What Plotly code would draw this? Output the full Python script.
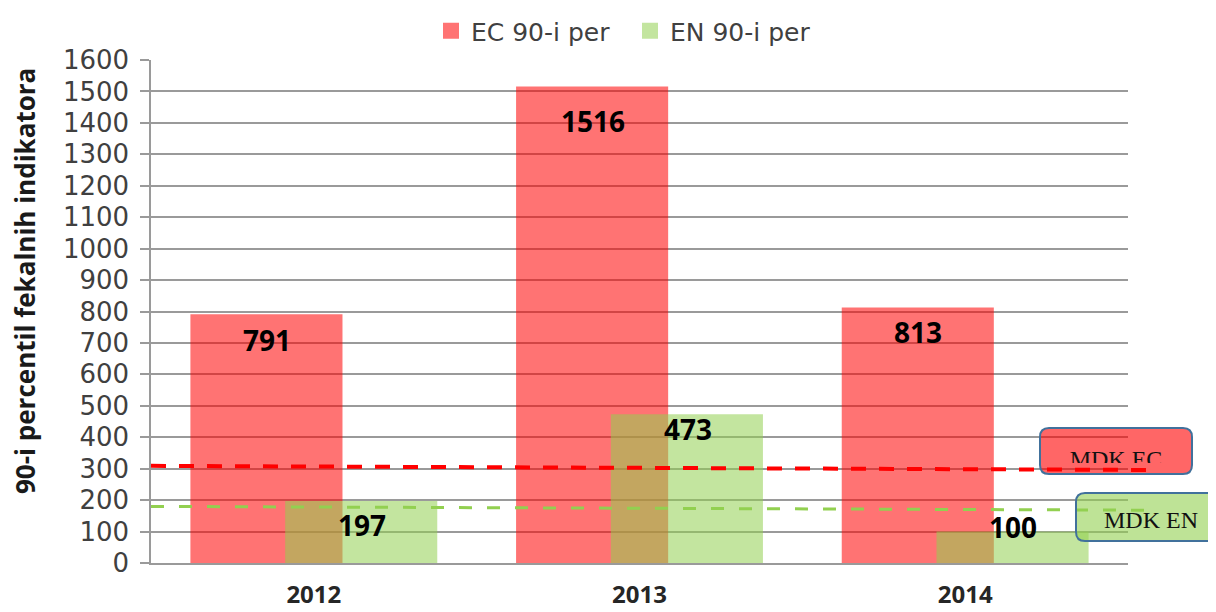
import plotly.graph_objects as go

# ---- data ----
years = ["2012", "2013", "2014"]
ec_values = [791, 1516, 813]
en_values = [197, 473, 100]
ec_name = "EC 90-i per"
en_name = "EN 90-i per"
mdk_ec = [309, 296]   # dashed MDK EC reference line (start, end)
mdk_en = [180, 168]   # dashed MDK EN reference line (start, end)
y_title = "90-i percentil fekalnih indikatora"

OFF = 8  # page body margin
W, H = 1216 - OFF, 612 - OFF
L, T = 151 - OFF, 60 - OFF
R = W - (1128 - OFF)
B = H - (563 - OFF)
PW, PH = W - L - R, H - T - B

def px_x(px):
    return (px - OFF - L) / PW

def px_y(py):
    return (H - B - (py - OFF)) / PH

EC_COL = "rgba(255,0,0,0.55)"
EN_COL = "rgba(146,208,80,0.55)"

fig = go.Figure()
bar_w = 0.467
fig.add_trace(go.Bar(
    x=years, y=ec_values, name=ec_name, width=bar_w, offset=-0.379, showlegend=False,
    marker=dict(color=EC_COL, line=dict(width=0)),
))
fig.add_trace(go.Bar(
    x=years, y=en_values, name=en_name, width=bar_w, offset=-0.088, showlegend=False,
    marker=dict(color=EN_COL, line=dict(width=0)),
))
# legend entries with larger square symbols
fig.add_trace(go.Scatter(x=[None], y=[None], mode="markers", name=ec_name,
                         marker=dict(symbol="square", size=18, color=EC_COL)))
fig.add_trace(go.Scatter(x=[None], y=[None], mode="markers", name=en_name,
                         marker=dict(symbol="square", size=18, color=EN_COL)))

annotations = []
label_font = dict(family="Open Sans", size=28, color="black")
ec_shift = [-26, -35, -25]
for i, (v, s) in enumerate(zip(ec_values, ec_shift)):
    annotations.append(dict(x=i, y=v, xref="x", yref="y", text=f"<b>{v}</b>", showarrow=False,
                            xshift=-47, yshift=s, font=label_font))
en_shift = [-24, -15, 5]
for i, (v, s) in enumerate(zip(en_values, en_shift)):
    annotations.append(dict(x=i, y=v, xref="x", yref="y", text=f"<b>{v}</b>", showarrow=False,
                            xshift=48, yshift=s, font=label_font))
annotations.append(dict(
    x=px_x(25), y=px_y(281), xref="paper", yref="paper", text=f"<b>{y_title}</b>",
    xanchor="center", yanchor="middle",
    textangle=-90, showarrow=False, font=dict(family="Open Sans", size=26, color="#1a1a1a"),
))

def rrect(x0, y0, x1, y1, r=9):
    # reference-pixel coords -> rounded rectangle path in paper coords
    rx, ry = r / PW, r / PH
    a0, a1 = px_x(x0), px_x(x1)
    b0, b1 = px_y(y1), px_y(y0)  # bottom, top
    return (f"M{a0+rx},{b1} L{a1-rx},{b1} Q{a1},{b1} {a1},{b1-ry} "
            f"L{a1},{b0+ry} Q{a1},{b0} {a1-rx},{b0} L{a0+rx},{b0} "
            f"Q{a0},{b0} {a0},{b0+ry} L{a0},{b1-ry} Q{a0},{b1} {a0+rx},{b1} Z")

shapes = [
    dict(type="line", xref="paper", yref="y", x0=0, x1=px_x(1148), y0=mdk_ec[0], y1=mdk_ec[1],
         line=dict(color="#FF0000", width=4, dash="15px,13px"), layer="above"),
    dict(type="line", xref="paper", yref="y", x0=0, x1=px_x(1148), y0=mdk_en[0], y1=mdk_en[1],
         line=dict(color="#92D050", width=3, dash="13px,15px"), layer="above"),
    dict(type="path", xref="paper", yref="paper", path=rrect(1040, 428, 1192, 474),
         fillcolor="rgba(255,0,0,0.6)", line=dict(color="#41719C", width=2), layer="above"),
    dict(type="rect", xref="paper", yref="paper", x0=px_x(1040), x1=px_x(1192),
         y0=px_y(472), y1=px_y(440), line=dict(width=0), fillcolor="rgba(0,0,0,0)",
         label=dict(text="MDK EC", font=dict(family="Liberation Serif", size=24, color="#111"),
                    textposition="middle center"), layer="above"),
    dict(type="rect", xref="paper", yref="paper", x0=px_x(1046), x1=px_x(1188),
         y0=px_y(467), y1=px_y(463), line=dict(width=0), fillcolor="rgb(255,102,102)", layer="above"),
    dict(type="path", xref="paper", yref="paper", path=rrect(1076, 493, 1226, 541),
         fillcolor="rgba(146,208,80,0.6)", line=dict(color="#41719C", width=2), layer="above"),
    dict(type="rect", xref="paper", yref="paper", x0=px_x(1076), x1=px_x(1226),
         y0=px_y(537), y1=px_y(497), line=dict(width=0), fillcolor="rgba(0,0,0,0)",
         label=dict(text="MDK EN", font=dict(family="Liberation Serif", size=24, color="#111"),
                    textposition="middle center"), layer="above"),
]

fig.update_layout(
    width=W, height=H, barmode="overlay",
    margin=dict(l=L, r=R, t=T, b=B, autoexpand=False),
    plot_bgcolor="white", paper_bgcolor="white",
    showlegend=True,
    legend=dict(orientation="h", x=px_x(431), xanchor="left", y=px_y(8), yanchor="top",
                font=dict(family="DejaVu Sans", size=25, color="#404040"),
                entrywidth=154, entrywidthmode="pixels",
                itemsizing="trace", bgcolor="rgba(0,0,0,0)"),
    annotations=annotations, shapes=shapes,
)
fig.update_xaxes(type="category", categoryorder="array", categoryarray=years, range=[-0.5, 2.5],
                 showline=True, linecolor="#9a9a9a", linewidth=1.5, ticks="",
                 showgrid=False, ticklabelstandoff=9,
                 tickfont=dict(family="Open Sans", size=24, color="#262626"),
                 tickprefix="<b>", ticksuffix="</b>")
fig.update_yaxes(range=[0, 1600], dtick=100, showgrid=True, gridcolor="#9a9a9a", gridwidth=1.5,
                 showline=True, linecolor="#9a9a9a", linewidth=1.5, ticks="outside", ticklen=9,
                 tickcolor="#9a9a9a", tickwidth=1.5, ticklabelstandoff=6, zeroline=False,
                 tickfont=dict(family="DejaVu Sans", size=26, color="#404040"))

fig.write_html("out.html")
